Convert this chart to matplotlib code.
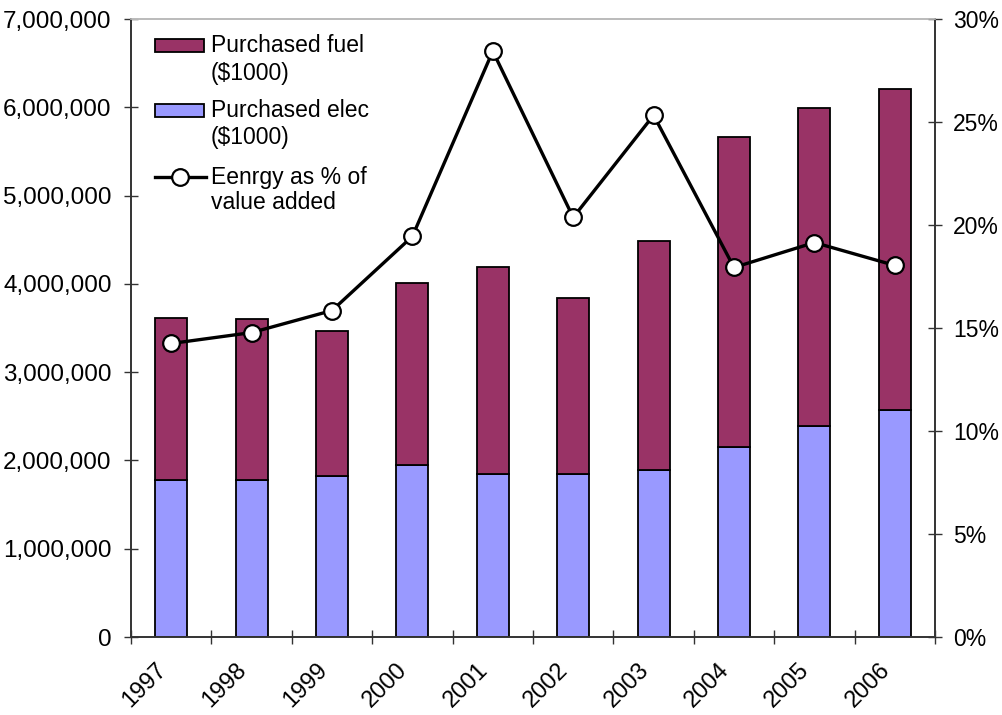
import matplotlib.pyplot as plt
import matplotlib.transforms as mtransforms
import numpy as np
from matplotlib.ticker import FuncFormatter, MultipleLocator
from matplotlib.lines import Line2D
from matplotlib.patches import Rectangle

plt.rcParams["font.family"] = ["Liberation Sans", "DejaVu Sans"]

years = ["1997", "1998", "1999", "2000", "2001", "2002", "2003", "2004", "2005", "2006"]
elec = [1780000, 1780000, 1827000, 1951000, 1849000, 1850000, 1895000, 2156000, 2394000, 2575000]
total = [3619000, 3608000, 3472000, 4005000, 4187000, 3835000, 4482000, 5662000, 5990000, 6206000]
fuel = [t - e for t, e in zip(total, elec)]
energy_pct = [14.25, 14.78, 15.85, 19.45, 28.44, 20.37, 25.33, 17.94, 19.15, 18.04]

FUEL_COLOR = "#993366"
ELEC_COLOR = "#9999FF"
AXIS_COLOR = "#333333"

fig = plt.figure(figsize=(10.03, 7.15), dpi=100)
ax = fig.add_axes([0.1306, 0.109, 0.8016, 0.8644])
ax2 = ax.twinx()

x = np.arange(len(years))
ax.bar(x, elec, 0.40, color=ELEC_COLOR, edgecolor="black", linewidth=1.3, zorder=2)
ax.bar(x, fuel, 0.40, bottom=elec, color=FUEL_COLOR, edgecolor="black", linewidth=1.3, zorder=2)

ax2.plot(x, energy_pct, color="black", linewidth=2.4, marker="o", markersize=12,
         markerfacecolor="white", markeredgecolor="black", markeredgewidth=1.6, zorder=3)

ax.set_xlim(-0.5, len(years) - 0.5)
ax.set_ylim(0, 7000000)
ax2.set_ylim(0, 30)

ax.yaxis.set_major_locator(MultipleLocator(1000000))
ax.yaxis.set_major_formatter(FuncFormatter(lambda v, p: f"{int(v):,}"))
ax2.yaxis.set_major_locator(MultipleLocator(5))
ax2.yaxis.set_major_formatter(FuncFormatter(lambda v, p: f"{int(v)}%"))

ax.set_xticks(x)
ax.set_xticklabels(years, rotation=45, ha="right", rotation_mode="anchor")
ax.set_xticks(np.arange(-0.5, len(years)), minor=True)
ax.tick_params(axis="x", which="major", length=0, pad=12, labelsize=17)
ax.tick_params(axis="x", which="minor", direction="inout", length=10, width=1, color=AXIS_COLOR)
ax.tick_params(axis="y", direction="inout", length=10, width=1, color=AXIS_COLOR, labelsize=17.5, pad=9)
ax2.tick_params(axis="y", direction="inout", length=10, width=1, color=AXIS_COLOR, labelsize=16.5, pad=8)

# shift year labels a little left/down like the original
offset = mtransforms.ScaledTranslation(-16 / 100, -5 / 100, fig.dpi_scale_trans)
for lbl in ax.get_xticklabels():
    lbl.set_transform(lbl.get_transform() + offset)

for a in (ax, ax2):
    a.spines["top"].set_color("#bbbbbb")
    a.spines["left"].set_color(AXIS_COLOR)
    a.spines["bottom"].set_color(AXIS_COLOR)
    a.spines["right"].set_color(AXIS_COLOR)
    for s in a.spines.values():
        s.set_linewidth(1.2)

# legend drawn by hand so the key sits on the first line of each two-line label
W, H = 804.0, 618.0  # axes size in px


def ax_xy(px, py):
    # px from axes left, py from axes top (pixels) -> axes fraction
    return px / W, 1 - py / H


legend_items = [
    ("patch", FUEL_COLOR, "Purchased fuel", "($1000)", 26, 54),
    ("patch", ELEC_COLOR, "Purchased elec", "($1000)", 91, 118),
    ("line", None, "Eenrgy as % of", "value added", 158, 183),
]
for kind, color, line1, line2, y1, y2 in legend_items:
    if kind == "patch":
        x0, yb = ax_xy(24, y1 + 6.5)
        ax2.add_patch(Rectangle((x0, yb), 49 / W, 13 / H, transform=ax2.transAxes,
                                facecolor=color, edgecolor="black", linewidth=1.3,
                                clip_on=False, zorder=5))
    else:
        xa, ya = ax_xy(24, y1)
        xb, _ = ax_xy(75, y1)
        xm, _ = ax_xy(49, y1)
        ax2.add_line(Line2D([xa, xb], [ya, ya], transform=ax2.transAxes, color="black",
                            linewidth=2.4, clip_on=False, zorder=5))
        ax2.add_line(Line2D([xm], [ya], transform=ax2.transAxes, marker="o", markersize=12,
                            markerfacecolor="white", markeredgecolor="black",
                            markeredgewidth=1.6, linestyle="none", clip_on=False, zorder=6))
    tx, ty1 = ax_xy(80, y1)
    _, ty2 = ax_xy(80, y2)
    ax2.text(tx, ty1, line1, transform=ax2.transAxes, fontsize=16.5, va="center", ha="left")
    ax2.text(tx, ty2, line2, transform=ax2.transAxes, fontsize=16.5, va="center", ha="left")

fig.savefig("out.png", dpi=100)
